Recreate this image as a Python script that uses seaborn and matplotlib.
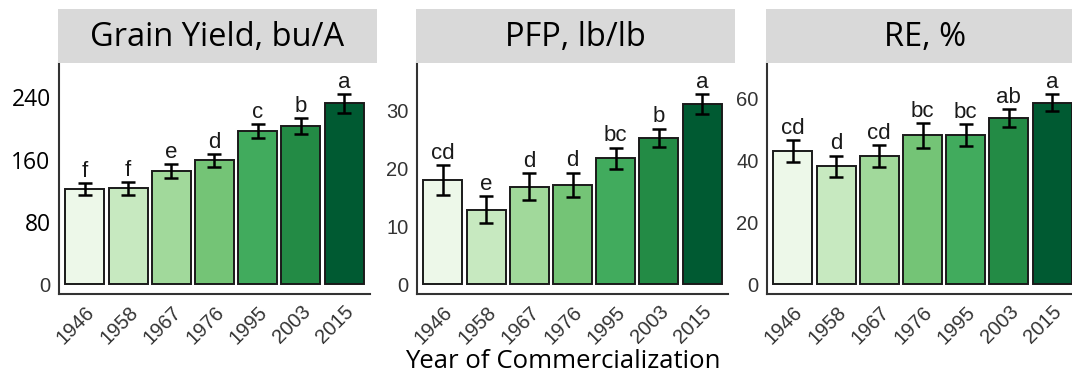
import matplotlib
matplotlib.use("Agg")
import matplotlib.pyplot as plt
import seaborn as sns
import pandas as pd

years = ["1946", "1958", "1967", "1976", "1995", "2003", "2015"]

yield_vals = [122, 123, 145, 159, 196, 203, 232]
yield_err = [8, 8, 9, 8, 9, 10, 12]
yield_letters = ["f", "f", "e", "d", "c", "b", "a"]

pfp_vals = [17.9, 12.8, 16.8, 17.1, 21.7, 25.2, 31.0]
pfp_err = [2.6, 2.3, 2.3, 2.1, 1.8, 1.6, 1.7]
pfp_letters = ["cd", "e", "d", "d", "bc", "b", "a"]

re_vals = [43.0, 38.0, 41.2, 48.0, 48.0, 53.6, 58.5]
re_err = [3.5, 3.4, 3.5, 4.0, 3.5, 2.9, 2.8]
re_letters = ["cd", "d", "cd", "bc", "bc", "ab", "a"]

titles = ["Grain Yield, bu/A", "PFP, lb/lb", "RE, %"]
yticks = [[0, 80, 160, 240], [0, 10, 20, 30], [0, 20, 40, 60]]
ylims = [(-12.8, 284), (-1.7, 38.1), (-3.2, 71.3)]

greens = ["#edf8e9", "#c7e9c0", "#a1d99b", "#74c476", "#41ab5d", "#238b45", "#005a32"]

sns.set_style("white")
plt.rcParams["font.family"] = ["Liberation Sans", "DejaVu Sans"]

W, H = 1072, 381
fig = plt.figure(figsize=(W / 100, H / 100), dpi=100)

lefts = [59, 417, 767]
panels = [(yield_vals, yield_err, yield_letters),
          (pfp_vals, pfp_err, pfp_letters),
          (re_vals, re_err, re_letters)]

for i, (vals, errs, letters) in enumerate(panels):
    left = lefts[i]
    ax = fig.add_axes([left / W, (H - 294) / H, 311 / W, (294 - 63) / H])
    df = pd.DataFrame({"year": years, "value": vals, "err": errs})
    sns.barplot(data=df, x="year", y="value", hue="year", order=years,
                palette=greens, saturation=1, legend=False, edgecolor="#1a1a1a",
                linewidth=1.4, width=0.9, ax=ax)
    ax.errorbar(range(len(years)), df["value"], yerr=df["err"], fmt="none",
                ecolor="black", elinewidth=1.8, capsize=5, capthick=1.8)
    top = ylims[i][1]
    for j, lab in enumerate(letters):
        ax.text(j, vals[j] + errs[j] + top * 0.006, lab, ha="center", va="bottom",
                fontsize=16, color="#1a1a1a")
    ax.set_xlim(-0.6, 6.6)
    ax.set_ylim(*ylims[i])
    ax.set_yticks(yticks[i])
    ax.set_xlabel("")
    ax.set_ylabel("")
    for s in ["top", "right"]:
        ax.spines[s].set_visible(False)
    for s in ["left", "bottom"]:
        ax.spines[s].set_color("#333333")
        ax.spines[s].set_linewidth(1.5)
    ax.tick_params(axis="both", length=4, width=1, color="#555555",
                   labelsize=14.5, labelcolor="#333333", pad=2)
    plt.setp(ax.get_xticklabels(), rotation=45, ha="right", rotation_mode="anchor")
    if i == 0:
        for t in ax.get_yticklabels()[1:]:
            t.set_fontfamily("Open Sans")
            t.set_fontsize(16.5)
            t.set_color("black")

    # grey strip header
    hx = fig.add_axes([(left - 1) / W, (H - 63) / H, 319 / W, 54 / H])
    hx.set_facecolor("#d9d9d9")
    hx.set_xticks([])
    hx.set_yticks([])
    for s in hx.spines.values():
        s.set_visible(False)
    hx.text(0.5, 0.47, titles[i], ha="center", va="center", fontsize=23.5,
            family="Open Sans", color="black", transform=hx.transAxes)

fig.text(563 / W, (H - 362) / H, "Year of Commercialization", ha="center",
         va="center", fontsize=18.5, family="Open Sans", color="black")

fig.savefig("out.png", dpi=100)
